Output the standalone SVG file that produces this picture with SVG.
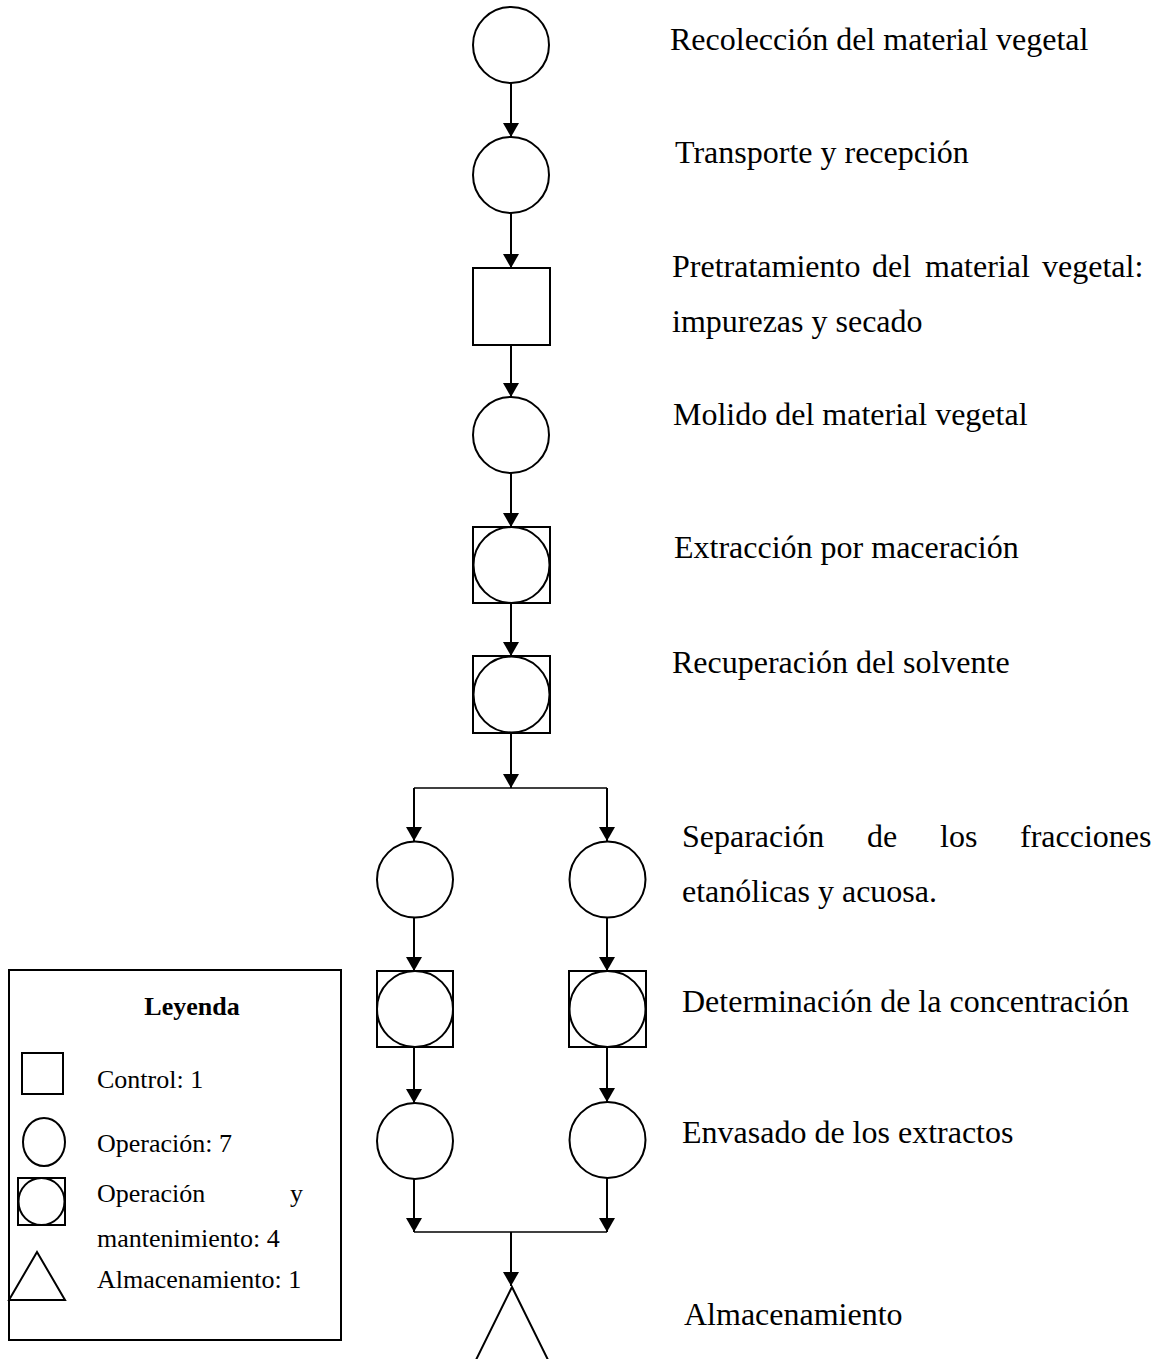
<svg xmlns="http://www.w3.org/2000/svg" width="1161" height="1359" viewBox="0 0 1161 1359">
<defs>
<marker id="ah" viewBox="0 0 14 16" refX="14" refY="8" markerWidth="14" markerHeight="16" markerUnits="userSpaceOnUse" orient="auto">
<path d="M0,0 L14,8 L0,16 z" fill="#000"/>
</marker>
</defs>
<style>
.s{fill:#fff;stroke:#000;stroke-width:2}
.c{fill:none;stroke:#000;stroke-width:2;marker-end:url(#ah)}
.h{fill:none;stroke:#000;stroke-width:1.5}
.t{font-family:"Liberation Serif","Times New Roman",serif;font-size:32px;fill:#000}
.l{font-family:"Liberation Serif","Times New Roman",serif;font-size:26px;fill:#000}
.lb{font-family:"Liberation Serif","Times New Roman",serif;font-size:26px;font-weight:bold;fill:#000}
</style>
<rect width="1161" height="1359" fill="#fff"/>

<g id="connectors">
<line class="c" x1="511" y1="83" x2="511" y2="137"/>
<line class="c" x1="511" y1="213" x2="511" y2="268"/>
<line class="c" x1="511" y1="345" x2="511" y2="397"/>
<line class="c" x1="511" y1="473" x2="511" y2="527"/>
<line class="c" x1="511" y1="603" x2="511" y2="656"/>
<line class="c" x1="511" y1="733" x2="511" y2="788"/>
<polyline class="h" points="414,788 607,788"/>
<line class="c" x1="414" y1="788" x2="414" y2="841"/>
<line class="c" x1="607" y1="788" x2="607" y2="841"/>
<line class="c" x1="414" y1="918" x2="414" y2="971"/>
<line class="c" x1="607" y1="918" x2="607" y2="971"/>
<line class="c" x1="414" y1="1047" x2="414" y2="1103"/>
<line class="c" x1="607" y1="1047" x2="607" y2="1102"/>
<line class="c" x1="414" y1="1179" x2="414" y2="1232"/>
<line class="c" x1="607" y1="1178" x2="607" y2="1232"/>
<polyline class="h" points="414,1232 607,1232"/>
<line class="c" x1="511" y1="1232" x2="511" y2="1286"/>
</g>

<g id="n1"><circle class="s" cx="511" cy="45" r="38"/><text class="t" x="670" y="50">Recolección del material vegetal</text></g>
<g id="n2"><circle class="s" cx="511" cy="175" r="38"/><text class="t" x="675" y="163">Transporte y recepción</text></g>
<g id="n3"><rect class="s" x="473" y="268" width="77" height="77"/>
<text class="t" y="277"><tspan x="672">Pretratamiento</tspan><tspan x="872">del</tspan><tspan x="925">material</tspan><tspan x="1042">vegetal:</tspan></text>
<text class="t" x="672" y="332">impurezas y secado</text></g>
<g id="n4"><circle class="s" cx="511" cy="435" r="38"/><text class="t" x="673" y="425">Molido del material vegetal</text></g>
<g id="n5"><rect class="s" x="473" y="527" width="77" height="76"/><circle class="s" cx="511.5" cy="565" r="38"/><text class="t" x="674" y="558">Extracción por maceración</text></g>
<g id="n6"><rect class="s" x="473" y="656" width="77" height="77"/><circle class="s" cx="511.5" cy="694.5" r="38"/><text class="t" x="672" y="673">Recuperación del solvente</text></g>
<g id="n7a"><circle class="s" cx="415" cy="879.5" r="38"/></g>
<g id="n7b"><circle class="s" cx="607.5" cy="879.5" r="38"/></g>
<g id="t7"><text class="t" y="847"><tspan x="682">Separación</tspan><tspan x="867">de</tspan><tspan x="940">los</tspan><tspan x="1020">fracciones</tspan></text>
<text class="t" x="682" y="902">etanólicas y acuosa.</text></g>
<g id="n8a"><rect class="s" x="377" y="971" width="76" height="76"/><circle class="s" cx="415" cy="1009" r="38"/></g>
<g id="n8b"><rect class="s" x="569" y="971" width="77" height="76"/><circle class="s" cx="607.5" cy="1009" r="38"/></g>
<g id="t8"><text class="t" x="682" y="1012">Determinación de la concentración</text></g>
<g id="n9a"><circle class="s" cx="415" cy="1141" r="38"/></g>
<g id="n9b"><circle class="s" cx="607.5" cy="1140" r="38"/></g>
<g id="t9"><text class="t" x="682" y="1143">Envasado de los extractos</text></g>
<g id="n10"><polygon class="s" points="512,1287 553,1370 471,1370"/><text class="t" x="684" y="1325">Almacenamiento</text></g>

<g id="legend">
<rect class="s" x="9" y="970" width="332" height="370"/>
<text class="lb" x="192" y="1015" text-anchor="middle">Leyenda</text>
<rect class="s" x="22" y="1053" width="41" height="41"/>
<text class="l" x="97" y="1088">Control: 1</text>
<ellipse class="s" cx="44" cy="1142" rx="21" ry="24"/>
<text class="l" x="97" y="1152">Operación: 7</text>
<rect class="s" x="18" y="1178" width="47" height="47"/>
<ellipse class="s" cx="41.5" cy="1201.5" rx="23" ry="23.5"/>
<text class="l" y="1202"><tspan x="97">Operación</tspan><tspan x="290">y</tspan></text>
<text class="l" x="97" y="1247">mantenimiento: 4</text>
<polygon class="s" points="37,1252 65,1300 9,1300"/>
<text class="l" x="97" y="1288">Almacenamiento: 1</text>
</g>
</svg>
